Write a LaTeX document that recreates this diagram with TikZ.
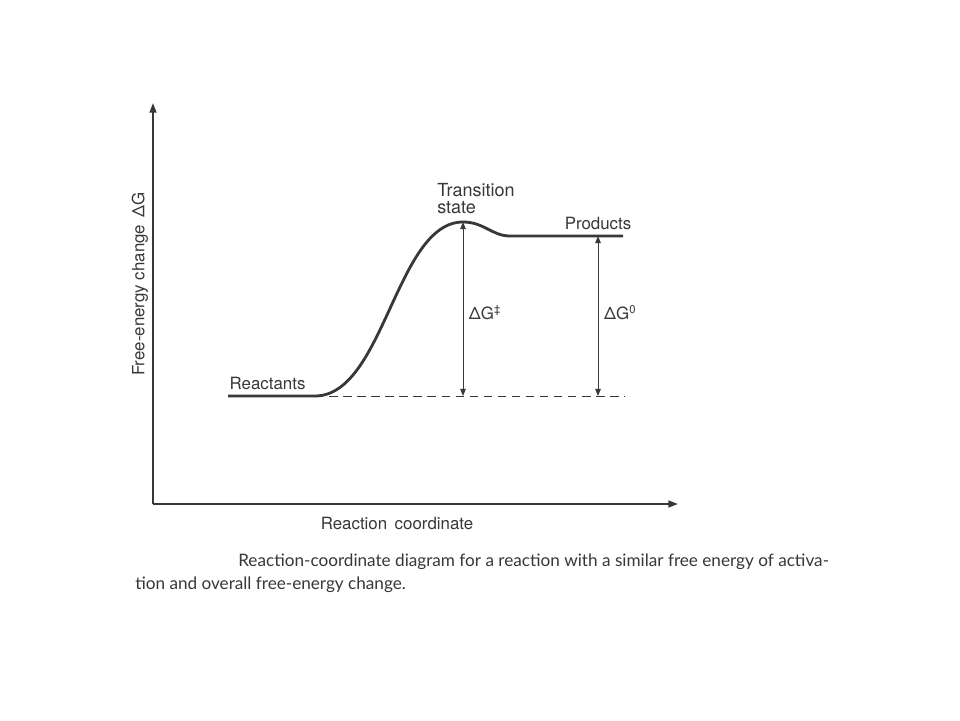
\documentclass[tikz,border=0pt]{standalone}
\usepackage{fontspec}
\setmainfont{TeX Gyre Heros}
\newfontfamily\capfont{Lato}
\usetikzlibrary{arrows.meta}
\definecolor{ink}{gray}{0.22}
\tikzset{axis/.style={line width=1.3pt,-{Triangle[length=2.4mm,width=1.7mm]}}}
\tikzset{gap/.style={line width=0.7pt,{Triangle[length=1.8mm,width=1.4mm]}-{Triangle[length=1.8mm,width=1.4mm]}}}
\tikzset{lbl/.style={font=\fontsize{12}{14}\selectfont}}
\tikzset{captxt/.style={anchor=west,inner sep=0pt,font=\capfont\fontsize{12.2}{14}\selectfont}}

\begin{document}
\begin{tikzpicture}[color=ink]
        \useasboundingbox[fill=white] (0,0) rectangle (24,18);
        \coordinate (O) at (3.825,5.4);
        \coordinate (Y) at (3.825,15.425);
        \coordinate (X) at (16.95,5.4);
        \coordinate (R1) at (5.7,8.1);
        \coordinate (R2) at (7.875,8.1);
        \coordinate (T) at (11.575,12.45);
        \coordinate (P1) at (12.75,12.1);
        \coordinate (P2) at (15.575,12.1);
        \coordinate (B1) at (11.575,8.1);
        \coordinate (P) at (14.95,12.1);
        \coordinate (B2) at (14.95,8.1);
        \coordinate (D) at (15.625,8.1);
        \draw[axis] (O) -- (Y);
        \draw[axis] (O) -- (X);
        \node[lbl,rotate=90] (ylab) at (3.5,10.9) {Free-energy change \,ΔG};
        \node[lbl] (xlab) at (9.925,4.925) {Reaction \,coordinate};
        \draw[dashed,dash pattern=on 6pt off 4pt,line width=0.6pt] (R2) -- (D);
        \draw[line width=2pt] (R1) -- (R2) .. controls (9.6,8.1) and (9.9,12.45) .. (T)
            .. controls (12.1,12.45) and (12.3,12.1) .. (P1) -- (P2);
        \draw[gap] (T) -- (B1);
        \draw[gap] (P) -- (B2);
        \node[lbl,anchor=south west,inner sep=1pt] (reac) at ([yshift=0.12cm]R1) {Reactants};
        \node[anchor=south west,align=left,inner sep=0pt,font=\fontsize{12.8}{11.5}\selectfont]
            (ts) at (10.925,12.66) {Transition\\state};
        \node[lbl,anchor=south,inner sep=1pt] (prod) at ([yshift=0.12cm]P) {Products};
        \node[lbl,anchor=west] (dga) at (11.6,10.175) {ΔG\textsuperscript{‡}};
        \node[lbl,anchor=west] (dgo) at (14.98,10.175) {ΔG\textsuperscript{0}};
        \node[captxt] (cap1) at (5.95,3.95)
            {Reaction-coordinate diagram for a reaction with a similar free energy of activa-};
        \node[captxt] (cap2) at (3.375,3.375) {tion and overall free-energy change.};
\end{tikzpicture}
\end{document}
